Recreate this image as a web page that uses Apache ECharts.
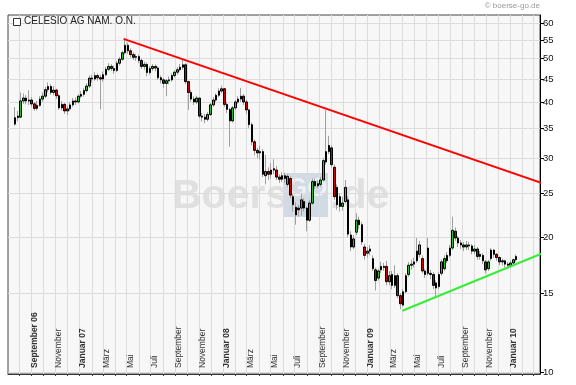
<!DOCTYPE html>
<html><head><meta charset="utf-8">
<script src="https://cdn.jsdelivr.net/npm/echarts@6/dist/echarts.min.js"></script>
<style>html,body{margin:0;padding:0;background:#fff}#c{width:576px;height:385px}</style>
</head><body><div id="c"></div>
<script>
// weekly candles, first week ending 2006-07-21
const firstWeek = '2006-07-21';
const opens = [35.7,36.9,37.0,40.2,40.8,40.2,40.4,39.6,38.7,39.3,40.6,41.2,42.6,43.3,42.0,42.5,41.3,38.8,39.5,38.2,38.6,39.4,40.2,40.0,41.2,41.6,42.4,43.4,45.2,45.0,45.8,45.3,45.0,46.0,47.3,48.0,47.5,47.0,48.8,49.8,51.5,53.5,52.0,51.0,50.3,50.5,49.5,48.0,48.5,46.5,47.5,48.0,47.6,45.3,44.8,44.0,44.6,44.8,45.8,46.6,47.2,47.8,48.4,44.4,42.0,40.6,40.0,40.8,37.2,37.0,36.6,37.5,39.4,40.4,41.4,42.3,42.8,39.5,38.5,36.3,38.8,40.0,40.6,41.2,40.0,38.4,35.6,32.6,31.2,30.8,31.0,27.4,28.0,27.6,28.2,28.2,27.2,26.9,27.4,26.2,27.0,24.6,22.4,23.2,23.2,24.0,23.2,21.8,23.8,26.6,26.0,26.2,26.8,29.4,31.0,31.6,28.6,25.8,24.6,23.4,24.0,24.2,20.2,19.0,20.5,21.8,21.3,19.0,18.4,18.6,17.9,16.9,16.2,16.9,17.2,17.2,15.9,16.5,15.6,16.4,14.8,14.1,15.1,16.5,17.3,17.4,17.7,18.3,17.9,16.8,18.9,16.6,16.5,15.8,15.5,16.6,17.0,17.7,18.2,18.9,20.6,19.9,19.4,19.2,19.0,19.2,19.1,18.6,18.8,18.1,18.2,17.6,17.0,17.9,18.7,18.3,18.0,17.6,17.7,17.4,17.3,17.5,17.8];
const closes = [36.9,37.2,40.2,40.8,40.2,40.4,39.6,38.7,39.3,40.6,41.2,42.6,43.3,42.0,42.5,41.3,38.8,39.5,38.2,38.6,39.4,40.2,40.0,41.2,41.6,42.4,43.4,45.2,45.0,45.8,45.3,45.0,46.0,47.3,48.0,47.5,47.0,48.8,49.8,51.5,53.5,52.0,51.0,50.3,50.5,49.5,48.0,48.5,46.5,47.5,48.0,47.6,45.3,44.8,44.0,44.6,44.8,45.8,46.6,47.2,47.8,48.4,44.4,42.0,40.6,40.0,40.8,37.2,37.0,36.6,37.5,39.4,40.4,41.4,42.3,42.8,39.5,38.5,36.3,38.8,40.0,40.6,41.2,40.0,38.4,35.6,32.6,31.2,30.8,31.0,27.6,28.0,27.6,28.2,28.4,27.2,26.9,27.4,27.0,27.3,24.8,23.6,23.3,23.0,24.2,23.2,21.8,23.8,26.6,26.0,26.3,26.8,29.6,31.0,32.0,29.0,24.6,23.6,23.4,23.8,25.8,20.3,19.0,19.8,21.8,21.3,19.5,18.2,18.6,18.8,17.0,16.0,16.8,17.2,17.1,15.9,16.4,15.6,16.4,14.8,14.2,15.1,16.4,17.3,17.4,17.6,18.6,19.2,16.8,16.5,16.6,16.5,15.6,15.4,16.5,17.6,17.9,18.2,18.9,20.7,19.9,19.4,19.2,19.0,19.2,19.1,18.6,18.8,18.1,18.3,17.7,16.9,17.6,18.7,18.3,18.0,17.6,17.7,17.4,17.3,17.5,17.8,18.1];
const lows = [35.4,36.2,36.8,39.6,39.5,39.4,39.0,38.2,38.3,39.0,40.0,40.8,42.0,41.5,41.4,40.6,38.4,38.3,37.6,37.4,38.2,39.0,39.4,39.7,40.8,41.1,42.0,43.0,44.2,44.6,44.6,38.5,44.4,45.6,46.8,46.9,46.2,46.6,48.2,49.4,51.0,51.2,50.2,49.6,49.4,48.8,47.4,47.2,45.6,46.0,46.9,46.8,44.8,44.0,43.0,41.2,43.8,44.4,45.4,46.0,46.8,47.2,43.8,38.4,40.0,39.4,39.6,36.8,36.2,35.9,36.2,37.2,39.0,40.0,41.0,41.8,39.0,37.8,31.8,36.0,38.4,39.6,40.0,39.4,37.6,35.0,32.0,30.4,30.0,29.8,27.2,26.2,26.8,27.0,27.6,26.8,26.4,26.5,26.4,25.8,24.4,22.8,21.3,22.2,22.3,22.8,20.6,21.6,23.6,25.6,25.7,25.9,26.6,29.0,30.6,28.6,24.2,23.0,22.8,22.9,23.8,20.0,18.6,18.8,20.2,20.8,19.2,17.8,18.0,18.2,16.8,15.2,16.0,16.6,16.8,15.6,15.6,15.3,15.4,14.6,13.8,14.0,15.0,16.3,16.9,17.1,17.5,18.0,16.6,16.2,16.4,16.1,15.3,14.7,15.3,16.4,16.8,17.5,18.0,18.7,19.6,19.0,18.8,18.6,18.7,18.7,18.3,18.3,17.8,17.8,17.4,16.6,16.8,17.7,18.0,17.7,17.3,17.3,17.1,17.0,17.1,17.3,17.6];
const highs = [39.0,38.2,42.0,41.8,41.4,42.5,41.0,40.0,40.2,41.2,42.0,43.2,44.2,43.8,43.4,42.8,41.6,40.2,39.8,39.2,40.0,40.8,40.9,41.6,42.3,43.0,44.0,45.8,46.0,46.6,46.3,46.0,46.8,47.9,48.8,48.6,48.2,49.4,50.4,52.0,55.5,54.2,52.6,51.6,51.2,51.0,50.0,49.2,49.0,48.0,48.6,48.5,48.0,45.8,45.2,45.0,45.6,46.3,47.0,47.8,48.6,49.6,48.8,44.6,42.6,41.2,41.3,41.0,37.8,37.6,38.0,39.8,41.0,41.8,42.9,43.5,43.0,40.0,38.8,39.2,40.4,41.2,43.0,41.6,40.4,38.6,36.0,33.0,31.6,32.0,31.4,30.5,28.6,29.2,29.8,28.8,27.6,27.9,27.8,27.6,27.3,25.0,23.9,23.6,25.0,24.4,23.4,24.2,27.0,27.0,26.8,27.2,30.0,38.4,33.6,32.0,29.0,26.2,25.0,24.6,26.8,24.6,20.6,20.2,22.6,22.2,21.6,19.3,19.0,19.2,18.2,17.1,17.0,17.6,17.5,17.7,16.8,16.8,17.3,16.6,15.0,15.3,16.6,17.6,17.8,18.0,19.9,19.6,18.2,17.0,19.9,16.9,16.7,16.0,16.7,17.8,18.2,18.5,19.2,22.2,21.0,20.1,19.7,19.5,19.6,19.5,19.3,19.2,19.0,18.6,18.4,17.8,17.8,18.9,18.8,18.4,18.1,17.9,17.8,17.6,17.7,17.9,18.3];

const yTickValues = [10,15,20,25,30,35,40,45,50,55,60];
const monthTickDates = ['2006-08-01','2006-09-01','2006-10-01','2006-11-01','2006-12-01','2007-01-01','2007-02-01','2007-03-01','2007-04-01','2007-05-01','2007-06-01','2007-07-01','2007-08-01','2007-09-01','2007-10-01','2007-11-01','2007-12-01','2008-01-01','2008-02-01','2008-03-01','2008-04-01','2008-05-01','2008-06-01','2008-07-01','2008-08-01','2008-09-01','2008-10-01','2008-11-01','2008-12-01','2009-01-01','2009-02-01','2009-03-01','2009-04-01','2009-05-01','2009-06-01','2009-07-01','2009-08-01','2009-09-01','2009-10-01','2009-11-01','2009-12-01','2010-01-01','2010-02-01','2010-03-01'];
const labelDates = ['2006-09-01','2006-11-01','2007-01-01','2007-03-01','2007-05-01','2007-07-01','2007-09-01','2007-11-01','2008-01-01','2008-03-01','2008-05-01','2008-07-01','2008-09-01','2008-11-01','2009-01-01','2009-03-01','2009-05-01','2009-07-01','2009-09-01','2009-11-01','2010-01-01'];
const labelTexts = ['September 06','November','Januar 07','März','Mai','Juli','September','November','Januar 08','März','Mai','Juli','September','November','Januar 09','März','Mai','Juli','September','November','Januar 10'];

const resistanceLine = [['2007-04-23', 55.3], ['2010-03-20', 26.4]];
const supportLine = [['2009-04-01', 13.7], ['2010-03-30', 18.5]];

const xMin = '2006-07-03', xMax = '2010-03-17';

const T = s => +new Date(s + 'T00:00:00Z');
const DAY = 86400000;
const t0 = T(firstWeek);
const times = opens.map((_, i) => t0 + i * 7 * DAY);
const wickData = times.map((t, i) => [t, opens[i], closes[i], lows[i], highs[i]]);
const bodyData = times.map((t, i) => [t, opens[i], closes[i], Math.min(opens[i], closes[i]), Math.max(opens[i], closes[i])]);
const labelMap = {};
labelDates.forEach((d, i) => { labelMap[T(d)] = labelTexts[i]; });

const chart = echarts.init(document.getElementById('c'), null, {renderer: 'canvas'});
chart.setOption({
  animation: false,
  backgroundColor: '#ffffff',
  textStyle: {fontFamily: 'Liberation Sans, Arial, sans-serif'},
  grid: {left: 8, right: 36, top: 15, bottom: 11, show: true, backgroundColor: '#f7f7f7', borderColor: '#444', borderWidth: 1},
  xAxis: {
    type: 'value', min: T(xMin), max: T(xMax), scale: true,
    axisLine: {show: true, onZero: false, lineStyle: {color: '#333', width: 1}},
    axisTick: {show: true, customValues: monthTickDates.map(T), length: 2, lineStyle: {color: '#333'}},
    splitLine: {show: true, lineStyle: {color: '#dcdcdc', width: 1}},
    axisLabel: {
      customValues: labelDates.map(T), inside: true, rotate: 90, margin: 6,
      fontSize: 8.5, color: '#333', padding: [7, 0, 0, 0],
      formatter: v => { const s = labelMap[v] || ''; return /\d\d$/.test(s) ? '{b|' + s + '}' : s; },
      rich: {b: {fontWeight: 'bold', fontSize: 8.5, color: '#333'}}
    }
  },
  yAxis: {
    type: 'log', logBase: 10, min: 9.9, max: 62.5, position: 'right',
    axisLine: {show: true, lineStyle: {color: '#000', width: 1}},
    axisTick: {show: true, customValues: yTickValues, length: 4, lineStyle: {color: '#000'}},
    splitLine: {show: true, lineStyle: {color: '#dcdcdc', width: 1}},
    axisLabel: {customValues: yTickValues, fontSize: 9.5, color: '#111', margin: 3}
  },
  graphic: [
    {type: 'rect', left: 13, top: 18, shape: {width: 7, height: 7}, style: {fill: '#fff', stroke: '#333', lineWidth: 1}, z: 10},
    {type: 'text', left: 24, top: 16, style: {text: 'CELESIO AG NAM. O.N.', font: '10px "Liberation Sans", Arial, sans-serif', fill: '#222'}, z: 10},
    {type: 'text', right: 36, top: 2, style: {text: '© boerse-go.de', font: '8px "Liberation Sans", Arial, sans-serif', fill: '#999'}, z: 10},
    {type: 'group', z: 1, children: [
      {type: 'text', x: 172, y: 176, style: {text: 'Boerse', font: 'bold 41px "Liberation Sans", Arial, sans-serif', fill: '#e0e0e0'}},
      {type: 'rect', shape: {x: 284, y: 173, width: 44, height: 44}, style: {fill: '#d2dae3'}},
      {type: 'text', x: 287, y: 176, style: {text: 'GO', font: 'bold 26px "Liberation Sans", Arial, sans-serif', fill: '#eef1f5'}},
      {type: 'text', x: 330, y: 176, style: {text: '.de', font: 'bold 41px "Liberation Sans", Arial, sans-serif', fill: '#e0e0e0'}}
    ]}
  ],
  series: [
    {type: 'candlestick', data: wickData, encode: {x: 0, y: [1, 2, 3, 4]}, barWidth: 1, z: 3,
     itemStyle: {color: '#a0a0a0', color0: '#a0a0a0', borderColor: '#a0a0a0', borderColor0: '#a0a0a0', borderWidth: 1}},
    {type: 'candlestick', data: bodyData, encode: {x: 0, y: [1, 2, 3, 4]}, barWidth: 2, z: 4,
     itemStyle: {color: '#1fc41f', color0: '#d00000', borderColor: '#000', borderColor0: '#000', borderWidth: 1}},
    {type: 'line', data: resistanceLine.map(p => [T(p[0]), p[1]]), symbol: 'none', clip: false, z: 5,
     lineStyle: {color: '#ff0000', width: 2}},
    {type: 'line', data: supportLine.map(p => [T(p[0]), p[1]]), symbol: 'none', clip: false, z: 5,
     lineStyle: {color: '#33ee33', width: 2}}
  ]
});
</script></body></html>
